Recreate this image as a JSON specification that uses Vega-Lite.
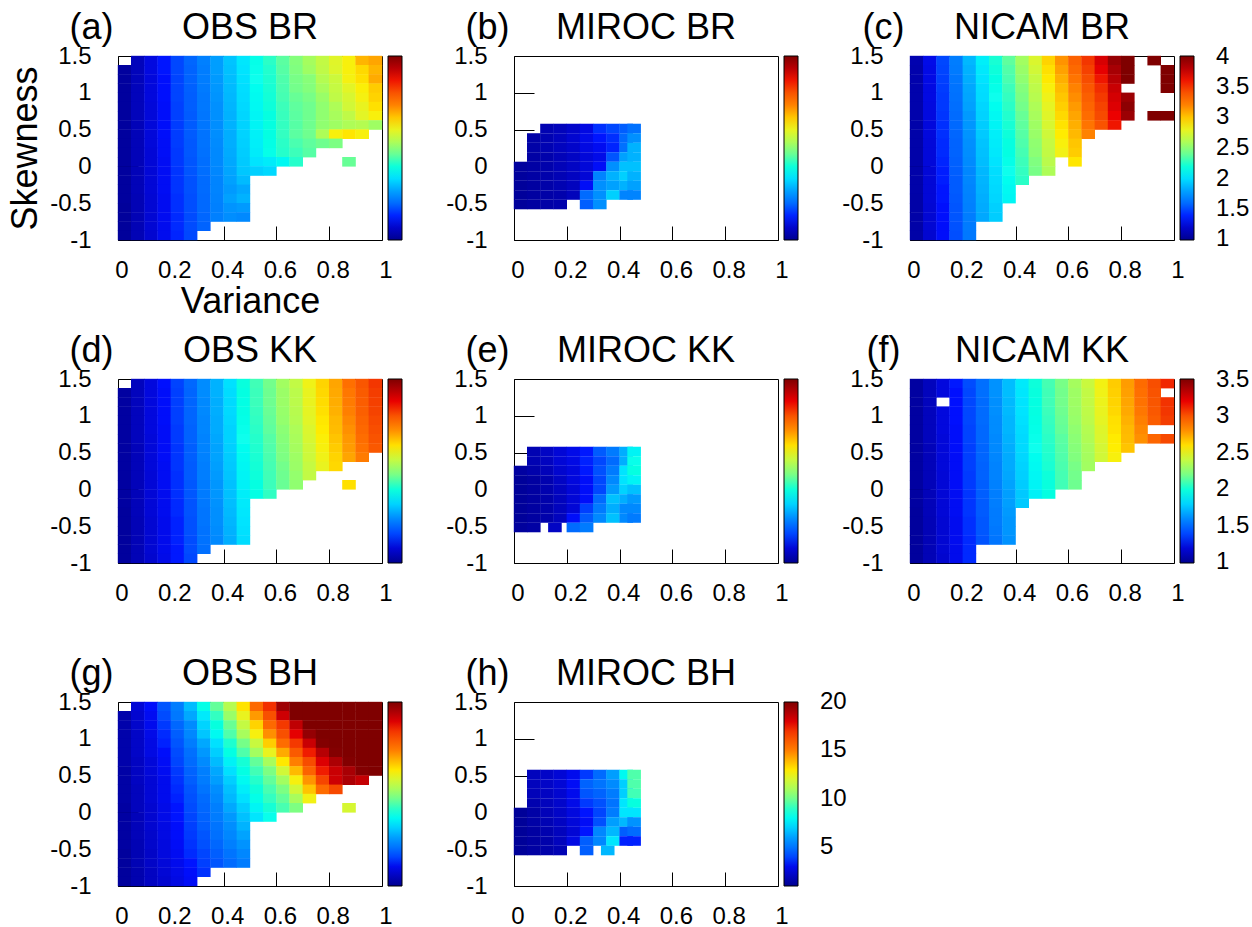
{"$schema":"https://vega.github.io/schema/vega-lite/v6.json","padding":{"left":7,"top":9,"right":0,"bottom":0},"background":"white","datasets":{
"a":[
{"x":0.05,"y":1.375,"v":1.15},{"x":0.1,"y":1.375,"v":1.27},{"x":0.15,"y":1.375,"v":1.38},{"x":0.2,"y":1.375,"v":1.48},{"x":0.25,"y":1.375,"v":1.58},{"x":0.3,"y":1.375,"v":1.68},{"x":0.35,"y":1.375,"v":1.79},{"x":0.4,"y":1.375,"v":1.91},{"x":0.45,"y":1.375,"v":2.03},{"x":0.5,"y":1.375,"v":2.15},{"x":0.55,"y":1.375,"v":2.26},{"x":0.6,"y":1.375,"v":2.37},{"x":0.65,"y":1.375,"v":2.47},{"x":0.7,"y":1.375,"v":2.57},{"x":0.75,"y":1.375,"v":2.67},{"x":0.8,"y":1.375,"v":2.77},{"x":0.85,"y":1.375,"v":2.85},{"x":0.9,"y":1.375,"v":3.05},{"x":0.95,"y":1.375,"v":3.1},
{"x":0,"y":1.25,"v":1.05},{"x":0.05,"y":1.25,"v":1.15},{"x":0.1,"y":1.25,"v":1.27},{"x":0.15,"y":1.25,"v":1.38},{"x":0.2,"y":1.25,"v":1.48},{"x":0.25,"y":1.25,"v":1.57},{"x":0.3,"y":1.25,"v":1.67},{"x":0.35,"y":1.25,"v":1.79},{"x":0.4,"y":1.25,"v":1.9},{"x":0.45,"y":1.25,"v":2.02},{"x":0.5,"y":1.25,"v":2.14},{"x":0.55,"y":1.25,"v":2.24},{"x":0.6,"y":1.25,"v":2.36},{"x":0.65,"y":1.25,"v":2.46},{"x":0.7,"y":1.25,"v":2.55},{"x":0.75,"y":1.25,"v":2.66},{"x":0.8,"y":1.25,"v":2.76},{"x":0.85,"y":1.25,"v":2.85},{"x":0.9,"y":1.25,"v":2.94},{"x":0.95,"y":1.25,"v":3.05},
{"x":0,"y":1.125,"v":1.05},{"x":0.05,"y":1.125,"v":1.15},{"x":0.1,"y":1.125,"v":1.26},{"x":0.15,"y":1.125,"v":1.37},{"x":0.2,"y":1.125,"v":1.47},{"x":0.25,"y":1.125,"v":1.57},{"x":0.3,"y":1.125,"v":1.67},{"x":0.35,"y":1.125,"v":1.78},{"x":0.4,"y":1.125,"v":1.89},{"x":0.45,"y":1.125,"v":2.01},{"x":0.5,"y":1.125,"v":2.13},{"x":0.55,"y":1.125,"v":2.23},{"x":0.6,"y":1.125,"v":2.34},{"x":0.65,"y":1.125,"v":2.44},{"x":0.7,"y":1.125,"v":2.48},{"x":0.75,"y":1.125,"v":2.62},{"x":0.8,"y":1.125,"v":2.7},{"x":0.85,"y":1.125,"v":2.84},{"x":0.9,"y":1.125,"v":2.92},{"x":0.95,"y":1.125,"v":3.08},
{"x":0,"y":1,"v":1.05},{"x":0.05,"y":1,"v":1.15},{"x":0.1,"y":1,"v":1.26},{"x":0.15,"y":1,"v":1.37},{"x":0.2,"y":1,"v":1.47},{"x":0.25,"y":1,"v":1.56},{"x":0.3,"y":1,"v":1.66},{"x":0.35,"y":1,"v":1.77},{"x":0.4,"y":1,"v":1.88},{"x":0.45,"y":1,"v":2},{"x":0.5,"y":1,"v":2.12},{"x":0.55,"y":1,"v":2.22},{"x":0.6,"y":1,"v":2.33},{"x":0.65,"y":1,"v":2.43},{"x":0.7,"y":1,"v":2.47},{"x":0.75,"y":1,"v":2.58},{"x":0.8,"y":1,"v":2.68},{"x":0.85,"y":1,"v":2.78},{"x":0.9,"y":1,"v":2.86},{"x":0.95,"y":1,"v":2.98},
{"x":0,"y":0.875,"v":1.05},{"x":0.05,"y":0.875,"v":1.15},{"x":0.1,"y":0.875,"v":1.26},{"x":0.15,"y":0.875,"v":1.37},{"x":0.2,"y":0.875,"v":1.47},{"x":0.25,"y":0.875,"v":1.55},{"x":0.3,"y":0.875,"v":1.65},{"x":0.35,"y":0.875,"v":1.76},{"x":0.4,"y":0.875,"v":1.87},{"x":0.45,"y":0.875,"v":1.99},{"x":0.5,"y":0.875,"v":2.11},{"x":0.55,"y":0.875,"v":2.21},{"x":0.6,"y":0.875,"v":2.32},{"x":0.65,"y":0.875,"v":2.4},{"x":0.7,"y":0.875,"v":2.44},{"x":0.75,"y":0.875,"v":2.53},{"x":0.8,"y":0.875,"v":2.66},{"x":0.85,"y":0.875,"v":2.74},{"x":0.9,"y":0.875,"v":2.84},{"x":0.95,"y":0.875,"v":2.96},
{"x":0,"y":0.75,"v":1.05},{"x":0.05,"y":0.75,"v":1.15},{"x":0.1,"y":0.75,"v":1.25},{"x":0.15,"y":0.75,"v":1.36},{"x":0.2,"y":0.75,"v":1.46},{"x":0.25,"y":0.75,"v":1.55},{"x":0.3,"y":0.75,"v":1.65},{"x":0.35,"y":0.75,"v":1.75},{"x":0.4,"y":0.75,"v":1.86},{"x":0.45,"y":0.75,"v":1.98},{"x":0.5,"y":0.75,"v":2.1},{"x":0.55,"y":0.75,"v":2.2},{"x":0.6,"y":0.75,"v":2.3},{"x":0.65,"y":0.75,"v":2.38},{"x":0.7,"y":0.75,"v":2.42},{"x":0.75,"y":0.75,"v":2.5},{"x":0.8,"y":0.75,"v":2.6},{"x":0.85,"y":0.75,"v":2.72},{"x":0.9,"y":0.75,"v":2.8},{"x":0.95,"y":0.75,"v":2.92},
{"x":0,"y":0.625,"v":1.05},{"x":0.05,"y":0.625,"v":1.15},{"x":0.1,"y":0.625,"v":1.25},{"x":0.15,"y":0.625,"v":1.36},{"x":0.2,"y":0.625,"v":1.46},{"x":0.25,"y":0.625,"v":1.54},{"x":0.3,"y":0.625,"v":1.64},{"x":0.35,"y":0.625,"v":1.75},{"x":0.4,"y":0.625,"v":1.85},{"x":0.45,"y":0.625,"v":1.97},{"x":0.5,"y":0.625,"v":2.09},{"x":0.55,"y":0.625,"v":2.18},{"x":0.6,"y":0.625,"v":2.29},{"x":0.65,"y":0.625,"v":2.37},{"x":0.7,"y":0.625,"v":2.42},{"x":0.75,"y":0.625,"v":2.5},{"x":0.8,"y":0.625,"v":2.58},{"x":0.85,"y":0.625,"v":2.66},{"x":0.9,"y":0.625,"v":2.78},{"x":0.95,"y":0.625,"v":2.85},
{"x":0,"y":0.5,"v":1.05},{"x":0.05,"y":0.5,"v":1.14},{"x":0.1,"y":0.5,"v":1.25},{"x":0.15,"y":0.5,"v":1.36},{"x":0.2,"y":0.5,"v":1.45},{"x":0.25,"y":0.5,"v":1.54},{"x":0.3,"y":0.5,"v":1.64},{"x":0.35,"y":0.5,"v":1.74},{"x":0.4,"y":0.5,"v":1.85},{"x":0.45,"y":0.5,"v":1.96},{"x":0.5,"y":0.5,"v":2.08},{"x":0.55,"y":0.5,"v":2.18},{"x":0.6,"y":0.5,"v":2.28},{"x":0.65,"y":0.5,"v":2.36},{"x":0.7,"y":0.5,"v":2.42},{"x":0.75,"y":0.5,"v":2.5},{"x":0.8,"y":0.5,"v":2.55},{"x":0.85,"y":0.5,"v":2.6},{"x":0.9,"y":0.5,"v":2.62},{"x":0.95,"y":0.5,"v":2.55},
{"x":0,"y":0.375,"v":1.05},{"x":0.05,"y":0.375,"v":1.14},{"x":0.1,"y":0.375,"v":1.25},{"x":0.15,"y":0.375,"v":1.36},{"x":0.2,"y":0.375,"v":1.45},{"x":0.25,"y":0.375,"v":1.54},{"x":0.3,"y":0.375,"v":1.63},{"x":0.35,"y":0.375,"v":1.74},{"x":0.4,"y":0.375,"v":1.84},{"x":0.45,"y":0.375,"v":1.96},{"x":0.5,"y":0.375,"v":2.07},{"x":0.55,"y":0.375,"v":2.17},{"x":0.6,"y":0.375,"v":2.28},{"x":0.65,"y":0.375,"v":2.37},{"x":0.7,"y":0.375,"v":2.42},{"x":0.75,"y":0.375,"v":2.6},{"x":0.8,"y":0.375,"v":2.85},{"x":0.85,"y":0.375,"v":2.9},{"x":0.9,"y":0.375,"v":2.85},
{"x":0,"y":0.25,"v":1.05},{"x":0.05,"y":0.25,"v":1.14},{"x":0.1,"y":0.25,"v":1.25},{"x":0.15,"y":0.25,"v":1.35},{"x":0.2,"y":0.25,"v":1.45},{"x":0.25,"y":0.25,"v":1.53},{"x":0.3,"y":0.25,"v":1.63},{"x":0.35,"y":0.25,"v":1.73},{"x":0.4,"y":0.25,"v":1.84},{"x":0.45,"y":0.25,"v":1.95},{"x":0.5,"y":0.25,"v":2.06},{"x":0.55,"y":0.25,"v":2.16},{"x":0.6,"y":0.25,"v":2.26},{"x":0.65,"y":0.25,"v":2.33},{"x":0.7,"y":0.25,"v":2.38},{"x":0.75,"y":0.25,"v":2.42},{"x":0.8,"y":0.25,"v":2.45},
{"x":0,"y":0.125,"v":1.05},{"x":0.05,"y":0.125,"v":1.14},{"x":0.1,"y":0.125,"v":1.24},{"x":0.15,"y":0.125,"v":1.35},{"x":0.2,"y":0.125,"v":1.44},{"x":0.25,"y":0.125,"v":1.53},{"x":0.3,"y":0.125,"v":1.62},{"x":0.35,"y":0.125,"v":1.72},{"x":0.4,"y":0.125,"v":1.83},{"x":0.45,"y":0.125,"v":1.94},{"x":0.5,"y":0.125,"v":2.05},{"x":0.55,"y":0.125,"v":2.15},{"x":0.6,"y":0.125,"v":2.25},{"x":0.65,"y":0.125,"v":2.3},{"x":0.7,"y":0.125,"v":2.36},
{"x":0,"y":0,"v":1.05},{"x":0.05,"y":0,"v":1.14},{"x":0.1,"y":0,"v":1.24},{"x":0.15,"y":0,"v":1.34},{"x":0.2,"y":0,"v":1.44},{"x":0.25,"y":0,"v":1.52},{"x":0.3,"y":0,"v":1.61},{"x":0.35,"y":0,"v":1.72},{"x":0.4,"y":0,"v":1.82},{"x":0.45,"y":0,"v":1.93},{"x":0.5,"y":0,"v":2.02},{"x":0.55,"y":0,"v":2.05},{"x":0.6,"y":0,"v":2.1},{"x":0.65,"y":0,"v":2.25},{"x":0.85,"y":0,"v":2.4},
{"x":0,"y":-0.125,"v":1.05},{"x":0.05,"y":-0.125,"v":1.14},{"x":0.1,"y":-0.125,"v":1.24},{"x":0.15,"y":-0.125,"v":1.34},{"x":0.2,"y":-0.125,"v":1.43},{"x":0.25,"y":-0.125,"v":1.52},{"x":0.3,"y":-0.125,"v":1.61},{"x":0.35,"y":-0.125,"v":1.71},{"x":0.4,"y":-0.125,"v":1.81},{"x":0.45,"y":-0.125,"v":1.92},{"x":0.5,"y":-0.125,"v":1.95},{"x":0.55,"y":-0.125,"v":1.98},
{"x":0,"y":-0.25,"v":1.05},{"x":0.05,"y":-0.25,"v":1.14},{"x":0.1,"y":-0.25,"v":1.24},{"x":0.15,"y":-0.25,"v":1.34},{"x":0.2,"y":-0.25,"v":1.43},{"x":0.25,"y":-0.25,"v":1.51},{"x":0.3,"y":-0.25,"v":1.6},{"x":0.35,"y":-0.25,"v":1.7},{"x":0.4,"y":-0.25,"v":1.8},{"x":0.45,"y":-0.25,"v":1.88},
{"x":0,"y":-0.375,"v":1.05},{"x":0.05,"y":-0.375,"v":1.14},{"x":0.1,"y":-0.375,"v":1.24},{"x":0.15,"y":-0.375,"v":1.34},{"x":0.2,"y":-0.375,"v":1.43},{"x":0.25,"y":-0.375,"v":1.51},{"x":0.3,"y":-0.375,"v":1.6},{"x":0.35,"y":-0.375,"v":1.7},{"x":0.4,"y":-0.375,"v":1.78},{"x":0.45,"y":-0.375,"v":1.82},
{"x":0,"y":-0.5,"v":1.05},{"x":0.05,"y":-0.5,"v":1.13},{"x":0.1,"y":-0.5,"v":1.23},{"x":0.15,"y":-0.5,"v":1.33},{"x":0.2,"y":-0.5,"v":1.42},{"x":0.25,"y":-0.5,"v":1.5},{"x":0.3,"y":-0.5,"v":1.59},{"x":0.35,"y":-0.5,"v":1.69},{"x":0.4,"y":-0.5,"v":1.8},{"x":0.45,"y":-0.5,"v":1.85},
{"x":0,"y":-0.625,"v":1.04},{"x":0.05,"y":-0.625,"v":1.13},{"x":0.1,"y":-0.625,"v":1.23},{"x":0.15,"y":-0.625,"v":1.33},{"x":0.2,"y":-0.625,"v":1.42},{"x":0.25,"y":-0.625,"v":1.5},{"x":0.3,"y":-0.625,"v":1.59},{"x":0.35,"y":-0.625,"v":1.68},{"x":0.4,"y":-0.625,"v":1.76},{"x":0.45,"y":-0.625,"v":1.78},
{"x":0,"y":-0.75,"v":1.04},{"x":0.05,"y":-0.75,"v":1.13},{"x":0.1,"y":-0.75,"v":1.23},{"x":0.15,"y":-0.75,"v":1.33},{"x":0.2,"y":-0.75,"v":1.41},{"x":0.25,"y":-0.75,"v":1.49},{"x":0.3,"y":-0.75,"v":1.58},{"x":0.35,"y":-0.75,"v":1.68},{"x":0.4,"y":-0.75,"v":1.74},{"x":0.45,"y":-0.75,"v":1.72},
{"x":0,"y":-0.875,"v":1.04},{"x":0.05,"y":-0.875,"v":1.13},{"x":0.1,"y":-0.875,"v":1.23},{"x":0.15,"y":-0.875,"v":1.32},{"x":0.2,"y":-0.875,"v":1.41},{"x":0.25,"y":-0.875,"v":1.49},{"x":0.3,"y":-0.875,"v":1.57},
{"x":0,"y":-1,"v":1.04},{"x":0.05,"y":-1,"v":1.13},{"x":0.1,"y":-1,"v":1.22},{"x":0.15,"y":-1,"v":1.32},{"x":0.2,"y":-1,"v":1.4},{"x":0.25,"y":-1,"v":1.48}
],
"b":[
{"x":0.1,"y":0.452,"v":1.12},{"x":0.15,"y":0.452,"v":1.15},{"x":0.2,"y":0.452,"v":1.2},{"x":0.25,"y":0.452,"v":1.28},{"x":0.3,"y":0.452,"v":1.42},{"x":0.35,"y":0.452,"v":1.48},{"x":0.4,"y":0.452,"v":1.55},{"x":0.43,"y":0.452,"v":1.62},
{"x":0.05,"y":0.323,"v":1.08},{"x":0.1,"y":0.323,"v":1.12},{"x":0.15,"y":0.323,"v":1.16},{"x":0.2,"y":0.323,"v":1.22},{"x":0.25,"y":0.323,"v":1.3},{"x":0.3,"y":0.323,"v":1.38},{"x":0.35,"y":0.323,"v":1.42},{"x":0.4,"y":0.323,"v":1.6},{"x":0.43,"y":0.323,"v":1.75},
{"x":0.05,"y":0.194,"v":1.08},{"x":0.1,"y":0.194,"v":1.12},{"x":0.15,"y":0.194,"v":1.16},{"x":0.2,"y":0.194,"v":1.2},{"x":0.25,"y":0.194,"v":1.28},{"x":0.3,"y":0.194,"v":1.33},{"x":0.35,"y":0.194,"v":1.4},{"x":0.4,"y":0.194,"v":1.62},{"x":0.43,"y":0.194,"v":1.85},
{"x":0.05,"y":0.065,"v":1.07},{"x":0.1,"y":0.065,"v":1.1},{"x":0.15,"y":0.065,"v":1.14},{"x":0.2,"y":0.065,"v":1.18},{"x":0.25,"y":0.065,"v":1.25},{"x":0.3,"y":0.065,"v":1.3},{"x":0.35,"y":0.065,"v":1.52},{"x":0.4,"y":0.065,"v":1.8},{"x":0.43,"y":0.065,"v":1.85},
{"x":0,"y":-0.064,"v":1.05},{"x":0.05,"y":-0.064,"v":1.07},{"x":0.1,"y":-0.064,"v":1.1},{"x":0.15,"y":-0.064,"v":1.14},{"x":0.2,"y":-0.064,"v":1.18},{"x":0.25,"y":-0.064,"v":1.25},{"x":0.3,"y":-0.064,"v":1.35},{"x":0.35,"y":-0.064,"v":1.75},{"x":0.4,"y":-0.064,"v":1.9},{"x":0.43,"y":-0.064,"v":1.9},
{"x":0,"y":-0.193,"v":1.05},{"x":0.05,"y":-0.193,"v":1.07},{"x":0.1,"y":-0.193,"v":1.1},{"x":0.15,"y":-0.193,"v":1.13},{"x":0.2,"y":-0.193,"v":1.17},{"x":0.25,"y":-0.193,"v":1.24},{"x":0.3,"y":-0.193,"v":1.7},{"x":0.35,"y":-0.193,"v":1.85},{"x":0.4,"y":-0.193,"v":1.95},{"x":0.43,"y":-0.193,"v":1.85},
{"x":0,"y":-0.322,"v":1.04},{"x":0.05,"y":-0.322,"v":1.06},{"x":0.1,"y":-0.322,"v":1.09},{"x":0.15,"y":-0.322,"v":1.12},{"x":0.2,"y":-0.322,"v":1.16},{"x":0.25,"y":-0.322,"v":1.35},{"x":0.3,"y":-0.322,"v":1.75},{"x":0.35,"y":-0.322,"v":1.8},{"x":0.4,"y":-0.322,"v":1.85},{"x":0.43,"y":-0.322,"v":1.8},
{"x":0,"y":-0.451,"v":1.04},{"x":0.05,"y":-0.451,"v":1.06},{"x":0.1,"y":-0.451,"v":1.08},{"x":0.15,"y":-0.451,"v":1.1},{"x":0.2,"y":-0.451,"v":1.15},{"x":0.25,"y":-0.451,"v":1.6},{"x":0.3,"y":-0.451,"v":1.75},{"x":0.35,"y":-0.451,"v":1.95},{"x":0.4,"y":-0.451,"v":1.7},{"x":0.43,"y":-0.451,"v":1.7},
{"x":0,"y":-0.58,"v":1.04},{"x":0.05,"y":-0.58,"v":1.06},{"x":0.1,"y":-0.58,"v":1.08},{"x":0.15,"y":-0.58,"v":1.1},{"x":0.25,"y":-0.58,"v":1.55},{"x":0.3,"y":-0.58,"v":1.75}
],
"c":[
{"x":0,"y":1.375,"v":1.11},{"x":0.05,"y":1.375,"v":1.3},{"x":0.1,"y":1.375,"v":1.48},{"x":0.15,"y":1.375,"v":1.67},{"x":0.2,"y":1.375,"v":1.87},{"x":0.25,"y":1.375,"v":2.06},{"x":0.3,"y":1.375,"v":2.22},{"x":0.35,"y":1.375,"v":2.38},{"x":0.4,"y":1.375,"v":2.56},{"x":0.45,"y":1.375,"v":2.75},{"x":0.5,"y":1.375,"v":2.96},{"x":0.55,"y":1.375,"v":3.15},{"x":0.6,"y":1.375,"v":3.33},{"x":0.65,"y":1.375,"v":3.52},{"x":0.7,"y":1.375,"v":3.7},{"x":0.75,"y":1.375,"v":3.92},{"x":0.8,"y":1.375,"v":4},{"x":0.9,"y":1.375,"v":4},
{"x":0,"y":1.25,"v":1.1},{"x":0.05,"y":1.25,"v":1.29},{"x":0.1,"y":1.25,"v":1.47},{"x":0.15,"y":1.25,"v":1.66},{"x":0.2,"y":1.25,"v":1.85},{"x":0.25,"y":1.25,"v":2.04},{"x":0.3,"y":1.25,"v":2.2},{"x":0.35,"y":1.25,"v":2.35},{"x":0.4,"y":1.25,"v":2.53},{"x":0.45,"y":1.25,"v":2.72},{"x":0.5,"y":1.25,"v":2.92},{"x":0.55,"y":1.25,"v":3.11},{"x":0.6,"y":1.25,"v":3.29},{"x":0.65,"y":1.25,"v":3.48},{"x":0.7,"y":1.25,"v":3.65},{"x":0.75,"y":1.25,"v":3.86},{"x":0.8,"y":1.25,"v":4},{"x":0.95,"y":1.25,"v":4},
{"x":0,"y":1.125,"v":1.1},{"x":0.05,"y":1.125,"v":1.29},{"x":0.1,"y":1.125,"v":1.46},{"x":0.15,"y":1.125,"v":1.64},{"x":0.2,"y":1.125,"v":1.84},{"x":0.25,"y":1.125,"v":2.02},{"x":0.3,"y":1.125,"v":2.17},{"x":0.35,"y":1.125,"v":2.33},{"x":0.4,"y":1.125,"v":2.5},{"x":0.45,"y":1.125,"v":2.68},{"x":0.5,"y":1.125,"v":2.89},{"x":0.55,"y":1.125,"v":3.07},{"x":0.6,"y":1.125,"v":3.24},{"x":0.65,"y":1.125,"v":3.43},{"x":0.7,"y":1.125,"v":3.6},{"x":0.75,"y":1.125,"v":3.81},{"x":0.8,"y":1.125,"v":4},{"x":0.95,"y":1.125,"v":4},
{"x":0,"y":1,"v":1.1},{"x":0.05,"y":1,"v":1.28},{"x":0.1,"y":1,"v":1.45},{"x":0.15,"y":1,"v":1.63},{"x":0.2,"y":1,"v":1.82},{"x":0.25,"y":1,"v":2},{"x":0.3,"y":1,"v":2.15},{"x":0.35,"y":1,"v":2.3},{"x":0.4,"y":1,"v":2.47},{"x":0.45,"y":1,"v":2.65},{"x":0.5,"y":1,"v":2.85},{"x":0.55,"y":1,"v":3.03},{"x":0.6,"y":1,"v":3.2},{"x":0.65,"y":1,"v":3.38},{"x":0.7,"y":1,"v":3.55},{"x":0.75,"y":1,"v":3.75},{"x":0.95,"y":1,"v":4},
{"x":0,"y":0.875,"v":1.1},{"x":0.05,"y":0.875,"v":1.28},{"x":0.1,"y":0.875,"v":1.44},{"x":0.15,"y":0.875,"v":1.62},{"x":0.2,"y":0.875,"v":1.81},{"x":0.25,"y":0.875,"v":1.99},{"x":0.3,"y":0.875,"v":2.13},{"x":0.35,"y":0.875,"v":2.28},{"x":0.4,"y":0.875,"v":2.45},{"x":0.45,"y":0.875,"v":2.63},{"x":0.5,"y":0.875,"v":2.82},{"x":0.55,"y":0.875,"v":3},{"x":0.6,"y":0.875,"v":3.17},{"x":0.65,"y":0.875,"v":3.34},{"x":0.7,"y":0.875,"v":3.51},{"x":0.75,"y":0.875,"v":3.71},{"x":0.8,"y":0.875,"v":3.9},
{"x":0,"y":0.75,"v":1.1},{"x":0.05,"y":0.75,"v":1.27},{"x":0.1,"y":0.75,"v":1.44},{"x":0.15,"y":0.75,"v":1.61},{"x":0.2,"y":0.75,"v":1.8},{"x":0.25,"y":0.75,"v":1.97},{"x":0.3,"y":0.75,"v":2.12},{"x":0.35,"y":0.75,"v":2.26},{"x":0.4,"y":0.75,"v":2.43},{"x":0.45,"y":0.75,"v":2.6},{"x":0.5,"y":0.75,"v":2.79},{"x":0.55,"y":0.75,"v":2.97},{"x":0.6,"y":0.75,"v":3.13},{"x":0.65,"y":0.75,"v":3.31},{"x":0.7,"y":0.75,"v":3.47},{"x":0.75,"y":0.75,"v":3.68},{"x":0.8,"y":0.75,"v":3.95},
{"x":0,"y":0.625,"v":1.1},{"x":0.05,"y":0.625,"v":1.27},{"x":0.1,"y":0.625,"v":1.43},{"x":0.15,"y":0.625,"v":1.6},{"x":0.2,"y":0.625,"v":1.78},{"x":0.25,"y":0.625,"v":1.96},{"x":0.3,"y":0.625,"v":2.1},{"x":0.35,"y":0.625,"v":2.24},{"x":0.4,"y":0.625,"v":2.4},{"x":0.45,"y":0.625,"v":2.58},{"x":0.5,"y":0.625,"v":2.77},{"x":0.55,"y":0.625,"v":2.94},{"x":0.6,"y":0.625,"v":3.1},{"x":0.65,"y":0.625,"v":3.27},{"x":0.7,"y":0.625,"v":3.44},{"x":0.75,"y":0.625,"v":3.63},{"x":0.8,"y":0.625,"v":3.9},{"x":0.9,"y":0.625,"v":4},{"x":0.95,"y":0.625,"v":4},
{"x":0,"y":0.5,"v":1.09},{"x":0.05,"y":0.5,"v":1.26},{"x":0.1,"y":0.5,"v":1.42},{"x":0.15,"y":0.5,"v":1.59},{"x":0.2,"y":0.5,"v":1.77},{"x":0.25,"y":0.5,"v":1.94},{"x":0.3,"y":0.5,"v":2.08},{"x":0.35,"y":0.5,"v":2.22},{"x":0.4,"y":0.5,"v":2.38},{"x":0.45,"y":0.5,"v":2.55},{"x":0.5,"y":0.5,"v":2.74},{"x":0.55,"y":0.5,"v":2.91},{"x":0.6,"y":0.5,"v":3.07},{"x":0.65,"y":0.5,"v":3.24},{"x":0.7,"y":0.5,"v":3.4},{"x":0.75,"y":0.5,"v":3.6},
{"x":0,"y":0.375,"v":1.09},{"x":0.05,"y":0.375,"v":1.26},{"x":0.1,"y":0.375,"v":1.42},{"x":0.15,"y":0.375,"v":1.58},{"x":0.2,"y":0.375,"v":1.76},{"x":0.25,"y":0.375,"v":1.93},{"x":0.3,"y":0.375,"v":2.06},{"x":0.35,"y":0.375,"v":2.2},{"x":0.4,"y":0.375,"v":2.36},{"x":0.45,"y":0.375,"v":2.53},{"x":0.5,"y":0.375,"v":2.71},{"x":0.55,"y":0.375,"v":2.88},{"x":0.6,"y":0.375,"v":3.04},{"x":0.65,"y":0.375,"v":3.2},
{"x":0,"y":0.25,"v":1.09},{"x":0.05,"y":0.25,"v":1.25},{"x":0.1,"y":0.25,"v":1.41},{"x":0.15,"y":0.25,"v":1.57},{"x":0.2,"y":0.25,"v":1.75},{"x":0.25,"y":0.25,"v":1.91},{"x":0.3,"y":0.25,"v":2.05},{"x":0.35,"y":0.25,"v":2.18},{"x":0.4,"y":0.25,"v":2.34},{"x":0.45,"y":0.25,"v":2.5},{"x":0.5,"y":0.25,"v":2.68},{"x":0.55,"y":0.25,"v":2.85},{"x":0.6,"y":0.25,"v":3},
{"x":0,"y":0.125,"v":1.09},{"x":0.05,"y":0.125,"v":1.25},{"x":0.1,"y":0.125,"v":1.41},{"x":0.15,"y":0.125,"v":1.57},{"x":0.2,"y":0.125,"v":1.74},{"x":0.25,"y":0.125,"v":1.9},{"x":0.3,"y":0.125,"v":2.04},{"x":0.35,"y":0.125,"v":2.17},{"x":0.4,"y":0.125,"v":2.32},{"x":0.45,"y":0.125,"v":2.49},{"x":0.5,"y":0.125,"v":2.67},{"x":0.55,"y":0.125,"v":2.83},{"x":0.6,"y":0.125,"v":2.98},
{"x":0,"y":0,"v":1.09},{"x":0.05,"y":0,"v":1.25},{"x":0.1,"y":0,"v":1.4},{"x":0.15,"y":0,"v":1.56},{"x":0.2,"y":0,"v":1.73},{"x":0.25,"y":0,"v":1.89},{"x":0.3,"y":0,"v":2.02},{"x":0.35,"y":0,"v":2.15},{"x":0.4,"y":0,"v":2.3},{"x":0.45,"y":0,"v":2.46},{"x":0.5,"y":0,"v":2.64},{"x":0.6,"y":0,"v":2.9},
{"x":0,"y":-0.125,"v":1.09},{"x":0.05,"y":-0.125,"v":1.24},{"x":0.1,"y":-0.125,"v":1.39},{"x":0.15,"y":-0.125,"v":1.55},{"x":0.2,"y":-0.125,"v":1.71},{"x":0.25,"y":-0.125,"v":1.87},{"x":0.3,"y":-0.125,"v":2},{"x":0.35,"y":-0.125,"v":2.13},{"x":0.4,"y":-0.125,"v":2.28},{"x":0.45,"y":-0.125,"v":2.44},{"x":0.5,"y":-0.125,"v":2.6},
{"x":0,"y":-0.25,"v":1.09},{"x":0.05,"y":-0.25,"v":1.24},{"x":0.1,"y":-0.25,"v":1.39},{"x":0.15,"y":-0.25,"v":1.54},{"x":0.2,"y":-0.25,"v":1.71},{"x":0.25,"y":-0.25,"v":1.86},{"x":0.3,"y":-0.25,"v":1.99},{"x":0.35,"y":-0.25,"v":2.12},{"x":0.4,"y":-0.25,"v":2.26},
{"x":0,"y":-0.375,"v":1.09},{"x":0.05,"y":-0.375,"v":1.24},{"x":0.1,"y":-0.375,"v":1.38},{"x":0.15,"y":-0.375,"v":1.54},{"x":0.2,"y":-0.375,"v":1.7},{"x":0.25,"y":-0.375,"v":1.85},{"x":0.3,"y":-0.375,"v":1.98},{"x":0.35,"y":-0.375,"v":2.1},
{"x":0,"y":-0.5,"v":1.08},{"x":0.05,"y":-0.5,"v":1.24},{"x":0.1,"y":-0.5,"v":1.38},{"x":0.15,"y":-0.5,"v":1.53},{"x":0.2,"y":-0.5,"v":1.69},{"x":0.25,"y":-0.5,"v":1.84},{"x":0.3,"y":-0.5,"v":1.97},{"x":0.35,"y":-0.5,"v":2.09},
{"x":0,"y":-0.625,"v":1.08},{"x":0.05,"y":-0.625,"v":1.23},{"x":0.1,"y":-0.625,"v":1.37},{"x":0.15,"y":-0.625,"v":1.52},{"x":0.2,"y":-0.625,"v":1.68},{"x":0.25,"y":-0.625,"v":1.83},{"x":0.3,"y":-0.625,"v":1.95},
{"x":0,"y":-0.75,"v":1.08},{"x":0.05,"y":-0.75,"v":1.23},{"x":0.1,"y":-0.75,"v":1.37},{"x":0.15,"y":-0.75,"v":1.52},{"x":0.2,"y":-0.75,"v":1.67},{"x":0.25,"y":-0.75,"v":1.82},{"x":0.3,"y":-0.75,"v":1.94},
{"x":0,"y":-0.875,"v":1.08},{"x":0.05,"y":-0.875,"v":1.23},{"x":0.1,"y":-0.875,"v":1.36},{"x":0.15,"y":-0.875,"v":1.51},{"x":0.2,"y":-0.875,"v":1.66},
{"x":0,"y":-1,"v":1.08},{"x":0.05,"y":-1,"v":1.22},{"x":0.1,"y":-1,"v":1.36},{"x":0.15,"y":-1,"v":1.5},{"x":0.2,"y":-1,"v":1.65}
],
"d":[
{"x":0.05,"y":1.375,"v":1.13},{"x":0.1,"y":1.375,"v":1.22},{"x":0.15,"y":1.375,"v":1.31},{"x":0.2,"y":1.375,"v":1.39},{"x":0.25,"y":1.375,"v":1.49},{"x":0.3,"y":1.375,"v":1.61},{"x":0.35,"y":1.375,"v":1.71},{"x":0.4,"y":1.375,"v":1.84},{"x":0.45,"y":1.375,"v":1.99},{"x":0.5,"y":1.375,"v":2.09},{"x":0.55,"y":1.375,"v":2.19},{"x":0.6,"y":1.375,"v":2.3},{"x":0.65,"y":1.375,"v":2.39},{"x":0.7,"y":1.375,"v":2.52},{"x":0.75,"y":1.375,"v":2.63},{"x":0.8,"y":1.375,"v":2.75},{"x":0.85,"y":1.375,"v":2.88},{"x":0.9,"y":1.375,"v":2.99},{"x":0.95,"y":1.375,"v":3.1},
{"x":0,"y":1.25,"v":1.05},{"x":0.05,"y":1.25,"v":1.13},{"x":0.1,"y":1.25,"v":1.22},{"x":0.15,"y":1.25,"v":1.3},{"x":0.2,"y":1.25,"v":1.38},{"x":0.25,"y":1.25,"v":1.48},{"x":0.3,"y":1.25,"v":1.61},{"x":0.35,"y":1.25,"v":1.71},{"x":0.4,"y":1.25,"v":1.83},{"x":0.45,"y":1.25,"v":1.98},{"x":0.5,"y":1.25,"v":2.08},{"x":0.55,"y":1.25,"v":2.18},{"x":0.6,"y":1.25,"v":2.28},{"x":0.65,"y":1.25,"v":2.37},{"x":0.7,"y":1.25,"v":2.5},{"x":0.75,"y":1.25,"v":2.62},{"x":0.8,"y":1.25,"v":2.74},{"x":0.85,"y":1.25,"v":2.86},{"x":0.9,"y":1.25,"v":2.97},{"x":0.95,"y":1.25,"v":3.08},
{"x":0,"y":1.125,"v":1.05},{"x":0.05,"y":1.125,"v":1.13},{"x":0.1,"y":1.125,"v":1.22},{"x":0.15,"y":1.125,"v":1.3},{"x":0.2,"y":1.125,"v":1.38},{"x":0.25,"y":1.125,"v":1.48},{"x":0.3,"y":1.125,"v":1.6},{"x":0.35,"y":1.125,"v":1.7},{"x":0.4,"y":1.125,"v":1.82},{"x":0.45,"y":1.125,"v":1.97},{"x":0.5,"y":1.125,"v":2.08},{"x":0.55,"y":1.125,"v":2.18},{"x":0.6,"y":1.125,"v":2.28},{"x":0.65,"y":1.125,"v":2.37},{"x":0.7,"y":1.125,"v":2.5},{"x":0.75,"y":1.125,"v":2.61},{"x":0.8,"y":1.125,"v":2.73},{"x":0.85,"y":1.125,"v":2.85},{"x":0.9,"y":1.125,"v":2.96},{"x":0.95,"y":1.125,"v":3.07},
{"x":0,"y":1,"v":1.05},{"x":0.05,"y":1,"v":1.13},{"x":0.1,"y":1,"v":1.22},{"x":0.15,"y":1,"v":1.3},{"x":0.2,"y":1,"v":1.38},{"x":0.25,"y":1,"v":1.48},{"x":0.3,"y":1,"v":1.6},{"x":0.35,"y":1,"v":1.7},{"x":0.4,"y":1,"v":1.82},{"x":0.45,"y":1,"v":1.97},{"x":0.5,"y":1,"v":2.07},{"x":0.55,"y":1,"v":2.17},{"x":0.6,"y":1,"v":2.27},{"x":0.65,"y":1,"v":2.36},{"x":0.7,"y":1,"v":2.49},{"x":0.75,"y":1,"v":2.6},{"x":0.8,"y":1,"v":2.72},{"x":0.85,"y":1,"v":2.84},{"x":0.9,"y":1,"v":2.95},{"x":0.95,"y":1,"v":3.06},
{"x":0,"y":0.875,"v":1.05},{"x":0.05,"y":0.875,"v":1.13},{"x":0.1,"y":0.875,"v":1.22},{"x":0.15,"y":0.875,"v":1.3},{"x":0.2,"y":0.875,"v":1.38},{"x":0.25,"y":0.875,"v":1.48},{"x":0.3,"y":0.875,"v":1.59},{"x":0.35,"y":0.875,"v":1.69},{"x":0.4,"y":0.875,"v":1.81},{"x":0.45,"y":0.875,"v":1.96},{"x":0.5,"y":0.875,"v":2.06},{"x":0.55,"y":0.875,"v":2.16},{"x":0.6,"y":0.875,"v":2.26},{"x":0.65,"y":0.875,"v":2.35},{"x":0.7,"y":0.875,"v":2.48},{"x":0.75,"y":0.875,"v":2.58},{"x":0.8,"y":0.875,"v":2.7},{"x":0.85,"y":0.875,"v":2.82},{"x":0.9,"y":0.875,"v":2.93},{"x":0.95,"y":0.875,"v":3.04},
{"x":0,"y":0.75,"v":1.05},{"x":0.05,"y":0.75,"v":1.13},{"x":0.1,"y":0.75,"v":1.22},{"x":0.15,"y":0.75,"v":1.29},{"x":0.2,"y":0.75,"v":1.37},{"x":0.25,"y":0.75,"v":1.47},{"x":0.3,"y":0.75,"v":1.59},{"x":0.35,"y":0.75,"v":1.69},{"x":0.4,"y":0.75,"v":1.8},{"x":0.45,"y":0.75,"v":1.95},{"x":0.5,"y":0.75,"v":2.05},{"x":0.55,"y":0.75,"v":2.15},{"x":0.6,"y":0.75,"v":2.24},{"x":0.65,"y":0.75,"v":2.33},{"x":0.7,"y":0.75,"v":2.46},{"x":0.75,"y":0.75,"v":2.57},{"x":0.8,"y":0.75,"v":2.69},{"x":0.85,"y":0.75,"v":2.8},{"x":0.9,"y":0.75,"v":2.91},{"x":0.95,"y":0.75,"v":3.02},
{"x":0,"y":0.625,"v":1.05},{"x":0.05,"y":0.625,"v":1.13},{"x":0.1,"y":0.625,"v":1.21},{"x":0.15,"y":0.625,"v":1.29},{"x":0.2,"y":0.625,"v":1.37},{"x":0.25,"y":0.625,"v":1.47},{"x":0.3,"y":0.625,"v":1.58},{"x":0.35,"y":0.625,"v":1.68},{"x":0.4,"y":0.625,"v":1.8},{"x":0.45,"y":0.625,"v":1.94},{"x":0.5,"y":0.625,"v":2.04},{"x":0.55,"y":0.625,"v":2.13},{"x":0.6,"y":0.625,"v":2.23},{"x":0.65,"y":0.625,"v":2.32},{"x":0.7,"y":0.625,"v":2.45},{"x":0.75,"y":0.625,"v":2.55},{"x":0.8,"y":0.625,"v":2.67},{"x":0.85,"y":0.625,"v":2.78},{"x":0.9,"y":0.625,"v":2.89},{"x":0.95,"y":0.625,"v":3},
{"x":0,"y":0.5,"v":1.05},{"x":0.05,"y":0.5,"v":1.12},{"x":0.1,"y":0.5,"v":1.21},{"x":0.15,"y":0.5,"v":1.29},{"x":0.2,"y":0.5,"v":1.36},{"x":0.25,"y":0.5,"v":1.46},{"x":0.3,"y":0.5,"v":1.58},{"x":0.35,"y":0.5,"v":1.67},{"x":0.4,"y":0.5,"v":1.79},{"x":0.45,"y":0.5,"v":1.93},{"x":0.5,"y":0.5,"v":2.03},{"x":0.55,"y":0.5,"v":2.12},{"x":0.6,"y":0.5,"v":2.22},{"x":0.65,"y":0.5,"v":2.31},{"x":0.7,"y":0.5,"v":2.43},{"x":0.75,"y":0.5,"v":2.54},{"x":0.8,"y":0.5,"v":2.65},{"x":0.85,"y":0.5,"v":2.77},{"x":0.9,"y":0.5,"v":2.87},{"x":0.95,"y":0.5,"v":2.98},
{"x":0,"y":0.375,"v":1.05},{"x":0.05,"y":0.375,"v":1.12},{"x":0.1,"y":0.375,"v":1.21},{"x":0.15,"y":0.375,"v":1.29},{"x":0.2,"y":0.375,"v":1.36},{"x":0.25,"y":0.375,"v":1.46},{"x":0.3,"y":0.375,"v":1.57},{"x":0.35,"y":0.375,"v":1.67},{"x":0.4,"y":0.375,"v":1.78},{"x":0.45,"y":0.375,"v":1.92},{"x":0.5,"y":0.375,"v":2.02},{"x":0.55,"y":0.375,"v":2.11},{"x":0.6,"y":0.375,"v":2.21},{"x":0.65,"y":0.375,"v":2.29},{"x":0.7,"y":0.375,"v":2.42},{"x":0.75,"y":0.375,"v":2.52},{"x":0.8,"y":0.375,"v":2.63},{"x":0.85,"y":0.375,"v":2.75},{"x":0.9,"y":0.375,"v":2.85},
{"x":0,"y":0.25,"v":1.05},{"x":0.05,"y":0.25,"v":1.12},{"x":0.1,"y":0.25,"v":1.21},{"x":0.15,"y":0.25,"v":1.28},{"x":0.2,"y":0.25,"v":1.36},{"x":0.25,"y":0.25,"v":1.45},{"x":0.3,"y":0.25,"v":1.56},{"x":0.35,"y":0.25,"v":1.66},{"x":0.4,"y":0.25,"v":1.77},{"x":0.45,"y":0.25,"v":1.91},{"x":0.5,"y":0.25,"v":2.01},{"x":0.55,"y":0.25,"v":2.1},{"x":0.6,"y":0.25,"v":2.19},{"x":0.65,"y":0.25,"v":2.28},{"x":0.7,"y":0.25,"v":2.4},{"x":0.75,"y":0.25,"v":2.5},{"x":0.8,"y":0.25,"v":2.62},
{"x":0,"y":0.125,"v":1.05},{"x":0.05,"y":0.125,"v":1.12},{"x":0.1,"y":0.125,"v":1.2},{"x":0.15,"y":0.125,"v":1.28},{"x":0.2,"y":0.125,"v":1.35},{"x":0.25,"y":0.125,"v":1.45},{"x":0.3,"y":0.125,"v":1.56},{"x":0.35,"y":0.125,"v":1.65},{"x":0.4,"y":0.125,"v":1.76},{"x":0.45,"y":0.125,"v":1.9},{"x":0.5,"y":0.125,"v":2},{"x":0.55,"y":0.125,"v":2.09},{"x":0.6,"y":0.125,"v":2.18},{"x":0.65,"y":0.125,"v":2.26},{"x":0.7,"y":0.125,"v":2.39},
{"x":0,"y":0,"v":1.05},{"x":0.05,"y":0,"v":1.12},{"x":0.1,"y":0,"v":1.2},{"x":0.15,"y":0,"v":1.28},{"x":0.2,"y":0,"v":1.35},{"x":0.25,"y":0,"v":1.44},{"x":0.3,"y":0,"v":1.55},{"x":0.35,"y":0,"v":1.64},{"x":0.4,"y":0,"v":1.75},{"x":0.45,"y":0,"v":1.89},{"x":0.5,"y":0,"v":1.98},{"x":0.55,"y":0,"v":2.08},{"x":0.6,"y":0,"v":2.17},{"x":0.65,"y":0,"v":2.25},{"x":0.85,"y":0,"v":2.6},
{"x":0,"y":-0.125,"v":1.05},{"x":0.05,"y":-0.125,"v":1.12},{"x":0.1,"y":-0.125,"v":1.2},{"x":0.15,"y":-0.125,"v":1.27},{"x":0.2,"y":-0.125,"v":1.35},{"x":0.25,"y":-0.125,"v":1.44},{"x":0.3,"y":-0.125,"v":1.55},{"x":0.35,"y":-0.125,"v":1.64},{"x":0.4,"y":-0.125,"v":1.75},{"x":0.45,"y":-0.125,"v":1.88},{"x":0.5,"y":-0.125,"v":1.97},{"x":0.55,"y":-0.125,"v":2.06},
{"x":0,"y":-0.25,"v":1.05},{"x":0.05,"y":-0.25,"v":1.12},{"x":0.1,"y":-0.25,"v":1.2},{"x":0.15,"y":-0.25,"v":1.27},{"x":0.2,"y":-0.25,"v":1.34},{"x":0.25,"y":-0.25,"v":1.43},{"x":0.3,"y":-0.25,"v":1.54},{"x":0.35,"y":-0.25,"v":1.63},{"x":0.4,"y":-0.25,"v":1.74},{"x":0.45,"y":-0.25,"v":1.87},
{"x":0,"y":-0.375,"v":1.04},{"x":0.05,"y":-0.375,"v":1.12},{"x":0.1,"y":-0.375,"v":1.2},{"x":0.15,"y":-0.375,"v":1.27},{"x":0.2,"y":-0.375,"v":1.34},{"x":0.25,"y":-0.375,"v":1.43},{"x":0.3,"y":-0.375,"v":1.53},{"x":0.35,"y":-0.375,"v":1.62},{"x":0.4,"y":-0.375,"v":1.73},{"x":0.45,"y":-0.375,"v":1.86},
{"x":0,"y":-0.5,"v":1.04},{"x":0.05,"y":-0.5,"v":1.11},{"x":0.1,"y":-0.5,"v":1.19},{"x":0.15,"y":-0.5,"v":1.26},{"x":0.2,"y":-0.5,"v":1.33},{"x":0.25,"y":-0.5,"v":1.42},{"x":0.3,"y":-0.5,"v":1.53},{"x":0.35,"y":-0.5,"v":1.62},{"x":0.4,"y":-0.5,"v":1.72},{"x":0.45,"y":-0.5,"v":1.85},
{"x":0,"y":-0.625,"v":1.04},{"x":0.05,"y":-0.625,"v":1.11},{"x":0.1,"y":-0.625,"v":1.19},{"x":0.15,"y":-0.625,"v":1.26},{"x":0.2,"y":-0.625,"v":1.33},{"x":0.25,"y":-0.625,"v":1.42},{"x":0.3,"y":-0.625,"v":1.52},{"x":0.35,"y":-0.625,"v":1.61},{"x":0.4,"y":-0.625,"v":1.71},{"x":0.45,"y":-0.625,"v":1.84},
{"x":0,"y":-0.75,"v":1.04},{"x":0.05,"y":-0.75,"v":1.11},{"x":0.1,"y":-0.75,"v":1.19},{"x":0.15,"y":-0.75,"v":1.26},{"x":0.2,"y":-0.75,"v":1.33},{"x":0.25,"y":-0.75,"v":1.41},{"x":0.3,"y":-0.75,"v":1.52},{"x":0.35,"y":-0.75,"v":1.6},{"x":0.4,"y":-0.75,"v":1.7},{"x":0.45,"y":-0.75,"v":1.83},
{"x":0,"y":-0.875,"v":1.04},{"x":0.05,"y":-0.875,"v":1.11},{"x":0.1,"y":-0.875,"v":1.19},{"x":0.15,"y":-0.875,"v":1.26},{"x":0.2,"y":-0.875,"v":1.32},{"x":0.25,"y":-0.875,"v":1.41},{"x":0.3,"y":-0.875,"v":1.51},
{"x":0,"y":-1,"v":1.04},{"x":0.05,"y":-1,"v":1.11},{"x":0.1,"y":-1,"v":1.18},{"x":0.15,"y":-1,"v":1.25},{"x":0.2,"y":-1,"v":1.32},{"x":0.25,"y":-1,"v":1.4}
],
"e":[
{"x":0.05,"y":0.452,"v":1.1},{"x":0.1,"y":0.452,"v":1.15},{"x":0.15,"y":0.452,"v":1.2},{"x":0.2,"y":0.452,"v":1.25},{"x":0.25,"y":0.452,"v":1.32},{"x":0.3,"y":0.452,"v":1.45},{"x":0.35,"y":0.452,"v":1.55},{"x":0.4,"y":0.452,"v":1.7},{"x":0.43,"y":0.452,"v":1.9},
{"x":0.05,"y":0.323,"v":1.1},{"x":0.1,"y":0.323,"v":1.14},{"x":0.15,"y":0.323,"v":1.2},{"x":0.2,"y":0.323,"v":1.24},{"x":0.25,"y":0.323,"v":1.33},{"x":0.3,"y":0.323,"v":1.4},{"x":0.35,"y":0.323,"v":1.5},{"x":0.4,"y":0.323,"v":1.7},{"x":0.43,"y":0.323,"v":1.95},
{"x":0,"y":0.194,"v":1.05},{"x":0.05,"y":0.194,"v":1.08},{"x":0.1,"y":0.194,"v":1.12},{"x":0.15,"y":0.194,"v":1.18},{"x":0.2,"y":0.194,"v":1.22},{"x":0.25,"y":0.194,"v":1.32},{"x":0.3,"y":0.194,"v":1.42},{"x":0.35,"y":0.194,"v":1.55},{"x":0.4,"y":0.194,"v":1.85},{"x":0.43,"y":0.194,"v":1.98},
{"x":0,"y":0.065,"v":1.03},{"x":0.05,"y":0.065,"v":1.05},{"x":0.1,"y":0.065,"v":1.09},{"x":0.15,"y":0.065,"v":1.15},{"x":0.2,"y":0.065,"v":1.22},{"x":0.25,"y":0.065,"v":1.3},{"x":0.3,"y":0.065,"v":1.4},{"x":0.35,"y":0.065,"v":1.6},{"x":0.4,"y":0.065,"v":1.85},{"x":0.43,"y":0.065,"v":1.9},
{"x":0,"y":-0.064,"v":1.03},{"x":0.05,"y":-0.064,"v":1.05},{"x":0.1,"y":-0.064,"v":1.09},{"x":0.15,"y":-0.064,"v":1.14},{"x":0.2,"y":-0.064,"v":1.2},{"x":0.25,"y":-0.064,"v":1.3},{"x":0.3,"y":-0.064,"v":1.4},{"x":0.35,"y":-0.064,"v":1.65},{"x":0.4,"y":-0.064,"v":1.8},{"x":0.43,"y":-0.064,"v":1.75},
{"x":0,"y":-0.193,"v":1.03},{"x":0.05,"y":-0.193,"v":1.05},{"x":0.1,"y":-0.193,"v":1.08},{"x":0.15,"y":-0.193,"v":1.13},{"x":0.2,"y":-0.193,"v":1.2},{"x":0.25,"y":-0.193,"v":1.3},{"x":0.3,"y":-0.193,"v":1.5},{"x":0.35,"y":-0.193,"v":1.75},{"x":0.4,"y":-0.193,"v":1.7},{"x":0.43,"y":-0.193,"v":1.65},
{"x":0,"y":-0.322,"v":1.03},{"x":0.05,"y":-0.322,"v":1.05},{"x":0.1,"y":-0.322,"v":1.08},{"x":0.15,"y":-0.322,"v":1.13},{"x":0.2,"y":-0.322,"v":1.2},{"x":0.25,"y":-0.322,"v":1.38},{"x":0.3,"y":-0.322,"v":1.55},{"x":0.35,"y":-0.322,"v":1.7},{"x":0.4,"y":-0.322,"v":1.6},{"x":0.43,"y":-0.322,"v":1.6},
{"x":0,"y":-0.451,"v":1.03},{"x":0.05,"y":-0.451,"v":1.05},{"x":0.1,"y":-0.451,"v":1.08},{"x":0.15,"y":-0.451,"v":1.13},{"x":0.2,"y":-0.451,"v":1.3},{"x":0.25,"y":-0.451,"v":1.45},{"x":0.3,"y":-0.451,"v":1.6},{"x":0.35,"y":-0.451,"v":1.75},{"x":0.4,"y":-0.451,"v":1.6},{"x":0.43,"y":-0.451,"v":1.55},
{"x":0,"y":-0.58,"v":1.04},{"x":0.05,"y":-0.58,"v":1.06},{"x":0.13,"y":-0.58,"v":1.15},{"x":0.2,"y":-0.58,"v":1.5},{"x":0.25,"y":-0.58,"v":1.55}
],
"f":[
{"x":0,"y":1.375,"v":1.05},{"x":0.05,"y":1.375,"v":1.13},{"x":0.1,"y":1.375,"v":1.22},{"x":0.15,"y":1.375,"v":1.32},{"x":0.2,"y":1.375,"v":1.41},{"x":0.25,"y":1.375,"v":1.51},{"x":0.3,"y":1.375,"v":1.63},{"x":0.35,"y":1.375,"v":1.74},{"x":0.4,"y":1.375,"v":1.87},{"x":0.45,"y":1.375,"v":2},{"x":0.5,"y":1.375,"v":2.1},{"x":0.55,"y":1.375,"v":2.2},{"x":0.6,"y":1.375,"v":2.31},{"x":0.65,"y":1.375,"v":2.41},{"x":0.7,"y":1.375,"v":2.53},{"x":0.75,"y":1.375,"v":2.65},{"x":0.8,"y":1.375,"v":2.77},{"x":0.85,"y":1.375,"v":2.9},{"x":0.9,"y":1.375,"v":3.02},{"x":0.95,"y":1.375,"v":3.14},
{"x":0,"y":1.25,"v":1.05},{"x":0.05,"y":1.25,"v":1.13},{"x":0.1,"y":1.25,"v":1.22},{"x":0.15,"y":1.25,"v":1.31},{"x":0.2,"y":1.25,"v":1.4},{"x":0.25,"y":1.25,"v":1.51},{"x":0.3,"y":1.25,"v":1.63},{"x":0.35,"y":1.25,"v":1.74},{"x":0.4,"y":1.25,"v":1.86},{"x":0.45,"y":1.25,"v":1.99},{"x":0.5,"y":1.25,"v":2.09},{"x":0.55,"y":1.25,"v":2.19},{"x":0.6,"y":1.25,"v":2.29},{"x":0.65,"y":1.25,"v":2.39},{"x":0.7,"y":1.25,"v":2.52},{"x":0.75,"y":1.25,"v":2.64},{"x":0.8,"y":1.25,"v":2.76},{"x":0.85,"y":1.25,"v":2.88},{"x":0.9,"y":1.25,"v":3},
{"x":0,"y":1.125,"v":1.05},{"x":0.05,"y":1.125,"v":1.13},{"x":0.15,"y":1.125,"v":1.31},{"x":0.2,"y":1.125,"v":1.4},{"x":0.25,"y":1.125,"v":1.5},{"x":0.3,"y":1.125,"v":1.62},{"x":0.35,"y":1.125,"v":1.73},{"x":0.4,"y":1.125,"v":1.85},{"x":0.45,"y":1.125,"v":1.98},{"x":0.5,"y":1.125,"v":2.09},{"x":0.55,"y":1.125,"v":2.19},{"x":0.6,"y":1.125,"v":2.29},{"x":0.65,"y":1.125,"v":2.39},{"x":0.7,"y":1.125,"v":2.51},{"x":0.75,"y":1.125,"v":2.63},{"x":0.8,"y":1.125,"v":2.75},{"x":0.85,"y":1.125,"v":2.87},{"x":0.9,"y":1.125,"v":2.99},{"x":0.95,"y":1.125,"v":3.11},
{"x":0,"y":1,"v":1.05},{"x":0.05,"y":1,"v":1.13},{"x":0.1,"y":1,"v":1.22},{"x":0.15,"y":1,"v":1.31},{"x":0.2,"y":1,"v":1.4},{"x":0.25,"y":1,"v":1.5},{"x":0.3,"y":1,"v":1.62},{"x":0.35,"y":1,"v":1.73},{"x":0.4,"y":1,"v":1.85},{"x":0.45,"y":1,"v":1.98},{"x":0.5,"y":1,"v":2.08},{"x":0.55,"y":1,"v":2.18},{"x":0.6,"y":1,"v":2.28},{"x":0.65,"y":1,"v":2.38},{"x":0.7,"y":1,"v":2.5},{"x":0.75,"y":1,"v":2.62},{"x":0.8,"y":1,"v":2.74},{"x":0.85,"y":1,"v":2.86},{"x":0.9,"y":1,"v":2.98},{"x":0.95,"y":1,"v":3.1},
{"x":0,"y":0.875,"v":1.05},{"x":0.05,"y":0.875,"v":1.13},{"x":0.1,"y":0.875,"v":1.22},{"x":0.15,"y":0.875,"v":1.31},{"x":0.2,"y":0.875,"v":1.4},{"x":0.25,"y":0.875,"v":1.5},{"x":0.3,"y":0.875,"v":1.61},{"x":0.35,"y":0.875,"v":1.72},{"x":0.4,"y":0.875,"v":1.84},{"x":0.45,"y":0.875,"v":1.97},{"x":0.5,"y":0.875,"v":2.07},{"x":0.55,"y":0.875,"v":2.17},{"x":0.6,"y":0.875,"v":2.27},{"x":0.65,"y":0.875,"v":2.37},{"x":0.7,"y":0.875,"v":2.49},{"x":0.75,"y":0.875,"v":2.6},{"x":0.8,"y":0.875,"v":2.72},{"x":0.85,"y":0.875,"v":2.84},{"x":0.9,"y":0.875,"v":2.96},{"x":0.95,"y":0.875,"v":3.08},
{"x":0,"y":0.75,"v":1.05},{"x":0.05,"y":0.75,"v":1.13},{"x":0.1,"y":0.75,"v":1.22},{"x":0.15,"y":0.75,"v":1.3},{"x":0.2,"y":0.75,"v":1.39},{"x":0.25,"y":0.75,"v":1.49},{"x":0.3,"y":0.75,"v":1.61},{"x":0.35,"y":0.75,"v":1.72},{"x":0.4,"y":0.75,"v":1.83},{"x":0.45,"y":0.75,"v":1.96},{"x":0.5,"y":0.75,"v":2.06},{"x":0.55,"y":0.75,"v":2.16},{"x":0.6,"y":0.75,"v":2.25},{"x":0.65,"y":0.75,"v":2.35},{"x":0.7,"y":0.75,"v":2.47},{"x":0.75,"y":0.75,"v":2.59},{"x":0.8,"y":0.75,"v":2.7},{"x":0.85,"y":0.75,"v":2.82},
{"x":0,"y":0.625,"v":1.05},{"x":0.05,"y":0.625,"v":1.13},{"x":0.1,"y":0.625,"v":1.21},{"x":0.15,"y":0.625,"v":1.3},{"x":0.2,"y":0.625,"v":1.39},{"x":0.25,"y":0.625,"v":1.49},{"x":0.3,"y":0.625,"v":1.6},{"x":0.35,"y":0.625,"v":1.71},{"x":0.4,"y":0.625,"v":1.82},{"x":0.45,"y":0.625,"v":1.95},{"x":0.5,"y":0.625,"v":2.05},{"x":0.55,"y":0.625,"v":2.14},{"x":0.6,"y":0.625,"v":2.24},{"x":0.65,"y":0.625,"v":2.34},{"x":0.7,"y":0.625,"v":2.46},{"x":0.75,"y":0.625,"v":2.57},{"x":0.8,"y":0.625,"v":2.69},{"x":0.85,"y":0.625,"v":2.8},{"x":0.9,"y":0.625,"v":2.92},{"x":0.95,"y":0.625,"v":3.04},
{"x":0,"y":0.5,"v":1.05},{"x":0.05,"y":0.5,"v":1.12},{"x":0.1,"y":0.5,"v":1.21},{"x":0.15,"y":0.5,"v":1.3},{"x":0.2,"y":0.5,"v":1.38},{"x":0.25,"y":0.5,"v":1.48},{"x":0.3,"y":0.5,"v":1.6},{"x":0.35,"y":0.5,"v":1.7},{"x":0.4,"y":0.5,"v":1.82},{"x":0.45,"y":0.5,"v":1.94},{"x":0.5,"y":0.5,"v":2.04},{"x":0.55,"y":0.5,"v":2.13},{"x":0.6,"y":0.5,"v":2.23},{"x":0.65,"y":0.5,"v":2.32},{"x":0.7,"y":0.5,"v":2.44},{"x":0.75,"y":0.5,"v":2.56},{"x":0.8,"y":0.5,"v":2.67},
{"x":0,"y":0.375,"v":1.05},{"x":0.05,"y":0.375,"v":1.12},{"x":0.1,"y":0.375,"v":1.21},{"x":0.15,"y":0.375,"v":1.29},{"x":0.2,"y":0.375,"v":1.38},{"x":0.25,"y":0.375,"v":1.48},{"x":0.3,"y":0.375,"v":1.59},{"x":0.35,"y":0.375,"v":1.69},{"x":0.4,"y":0.375,"v":1.81},{"x":0.45,"y":0.375,"v":1.93},{"x":0.5,"y":0.375,"v":2.03},{"x":0.55,"y":0.375,"v":2.12},{"x":0.6,"y":0.375,"v":2.22},{"x":0.65,"y":0.375,"v":2.31},{"x":0.7,"y":0.375,"v":2.43},{"x":0.75,"y":0.375,"v":2.54},
{"x":0,"y":0.25,"v":1.05},{"x":0.05,"y":0.25,"v":1.12},{"x":0.1,"y":0.25,"v":1.21},{"x":0.15,"y":0.25,"v":1.29},{"x":0.2,"y":0.25,"v":1.38},{"x":0.25,"y":0.25,"v":1.47},{"x":0.3,"y":0.25,"v":1.58},{"x":0.35,"y":0.25,"v":1.69},{"x":0.4,"y":0.25,"v":1.8},{"x":0.45,"y":0.25,"v":1.92},{"x":0.5,"y":0.25,"v":2.02},{"x":0.55,"y":0.25,"v":2.11},{"x":0.6,"y":0.25,"v":2.2},{"x":0.65,"y":0.25,"v":2.3},
{"x":0,"y":0.125,"v":1.05},{"x":0.05,"y":0.125,"v":1.12},{"x":0.1,"y":0.125,"v":1.2},{"x":0.15,"y":0.125,"v":1.29},{"x":0.2,"y":0.125,"v":1.37},{"x":0.25,"y":0.125,"v":1.47},{"x":0.3,"y":0.125,"v":1.58},{"x":0.35,"y":0.125,"v":1.68},{"x":0.4,"y":0.125,"v":1.79},{"x":0.45,"y":0.125,"v":1.91},{"x":0.5,"y":0.125,"v":2},{"x":0.55,"y":0.125,"v":2.1},{"x":0.6,"y":0.125,"v":2.19},
{"x":0,"y":0,"v":1.05},{"x":0.05,"y":0,"v":1.12},{"x":0.1,"y":0,"v":1.2},{"x":0.15,"y":0,"v":1.29},{"x":0.2,"y":0,"v":1.37},{"x":0.25,"y":0,"v":1.46},{"x":0.3,"y":0,"v":1.57},{"x":0.35,"y":0,"v":1.67},{"x":0.4,"y":0,"v":1.78},{"x":0.45,"y":0,"v":1.9},{"x":0.5,"y":0,"v":1.99},{"x":0.55,"y":0,"v":2.09},{"x":0.6,"y":0,"v":2.18},
{"x":0,"y":-0.125,"v":1.05},{"x":0.05,"y":-0.125,"v":1.12},{"x":0.1,"y":-0.125,"v":1.2},{"x":0.15,"y":-0.125,"v":1.28},{"x":0.2,"y":-0.125,"v":1.36},{"x":0.25,"y":-0.125,"v":1.46},{"x":0.3,"y":-0.125,"v":1.56},{"x":0.35,"y":-0.125,"v":1.66},{"x":0.4,"y":-0.125,"v":1.77},{"x":0.45,"y":-0.125,"v":1.89},{"x":0.5,"y":-0.125,"v":1.98},
{"x":0,"y":-0.25,"v":1.05},{"x":0.05,"y":-0.25,"v":1.12},{"x":0.1,"y":-0.25,"v":1.2},{"x":0.15,"y":-0.25,"v":1.28},{"x":0.2,"y":-0.25,"v":1.36},{"x":0.25,"y":-0.25,"v":1.45},{"x":0.3,"y":-0.25,"v":1.56},{"x":0.35,"y":-0.25,"v":1.66},{"x":0.4,"y":-0.25,"v":1.77},
{"x":0,"y":-0.375,"v":1.04},{"x":0.05,"y":-0.375,"v":1.12},{"x":0.1,"y":-0.375,"v":1.2},{"x":0.15,"y":-0.375,"v":1.28},{"x":0.2,"y":-0.375,"v":1.36},{"x":0.25,"y":-0.375,"v":1.45},{"x":0.3,"y":-0.375,"v":1.55},{"x":0.35,"y":-0.375,"v":1.65},
{"x":0,"y":-0.5,"v":1.04},{"x":0.05,"y":-0.5,"v":1.11},{"x":0.1,"y":-0.5,"v":1.19},{"x":0.15,"y":-0.5,"v":1.27},{"x":0.2,"y":-0.5,"v":1.35},{"x":0.25,"y":-0.5,"v":1.44},{"x":0.3,"y":-0.5,"v":1.55},{"x":0.35,"y":-0.5,"v":1.64},
{"x":0,"y":-0.625,"v":1.04},{"x":0.05,"y":-0.625,"v":1.11},{"x":0.1,"y":-0.625,"v":1.19},{"x":0.15,"y":-0.625,"v":1.27},{"x":0.2,"y":-0.625,"v":1.35},{"x":0.25,"y":-0.625,"v":1.44},{"x":0.3,"y":-0.625,"v":1.54},{"x":0.35,"y":-0.625,"v":1.64},
{"x":0,"y":-0.75,"v":1.04},{"x":0.05,"y":-0.75,"v":1.11},{"x":0.1,"y":-0.75,"v":1.19},{"x":0.15,"y":-0.75,"v":1.27},{"x":0.2,"y":-0.75,"v":1.34},{"x":0.25,"y":-0.75,"v":1.43},{"x":0.3,"y":-0.75,"v":1.53},{"x":0.35,"y":-0.75,"v":1.63},
{"x":0,"y":-0.875,"v":1.04},{"x":0.05,"y":-0.875,"v":1.11},{"x":0.1,"y":-0.875,"v":1.19},{"x":0.15,"y":-0.875,"v":1.26},{"x":0.2,"y":-0.875,"v":1.34},
{"x":0,"y":-1,"v":1.04},{"x":0.05,"y":-1,"v":1.11},{"x":0.1,"y":-1,"v":1.18},{"x":0.15,"y":-1,"v":1.26},{"x":0.2,"y":-1,"v":1.34}
],
"g":[
{"x":0.05,"y":1.375,"v":2.5},{"x":0.1,"y":1.375,"v":3.3},{"x":0.15,"y":1.375,"v":4.3},{"x":0.2,"y":1.375,"v":5.25},{"x":0.25,"y":1.375,"v":6.6},{"x":0.3,"y":1.375,"v":8.3},{"x":0.35,"y":1.375,"v":9.8},{"x":0.4,"y":1.375,"v":11.3},{"x":0.45,"y":1.375,"v":13.1},{"x":0.5,"y":1.375,"v":15.5},{"x":0.55,"y":1.375,"v":17.1},{"x":0.6,"y":1.375,"v":19.3},{"x":0.65,"y":1.375,"v":20},{"x":0.7,"y":1.375,"v":20},{"x":0.75,"y":1.375,"v":20},{"x":0.8,"y":1.375,"v":20},{"x":0.85,"y":1.375,"v":20},{"x":0.9,"y":1.375,"v":20},{"x":0.95,"y":1.375,"v":20},
{"x":0,"y":1.25,"v":1.6},{"x":0.05,"y":1.25,"v":2.4},{"x":0.1,"y":1.25,"v":3.1},{"x":0.15,"y":1.25,"v":4.1},{"x":0.2,"y":1.25,"v":5.1},{"x":0.25,"y":1.25,"v":6.2},{"x":0.3,"y":1.25,"v":7.6},{"x":0.35,"y":1.25,"v":9.1},{"x":0.4,"y":1.25,"v":10.7},{"x":0.45,"y":1.25,"v":12.4},{"x":0.5,"y":1.25,"v":14.5},{"x":0.55,"y":1.25,"v":16.3},{"x":0.6,"y":1.25,"v":18.3},{"x":0.65,"y":1.25,"v":20},{"x":0.7,"y":1.25,"v":20},{"x":0.75,"y":1.25,"v":20},{"x":0.8,"y":1.25,"v":20},{"x":0.85,"y":1.25,"v":20},{"x":0.9,"y":1.25,"v":20},{"x":0.95,"y":1.25,"v":20},
{"x":0,"y":1.125,"v":1.6},{"x":0.05,"y":1.125,"v":2.3},{"x":0.1,"y":1.125,"v":3},{"x":0.15,"y":1.125,"v":3.8},{"x":0.2,"y":1.125,"v":4.7},{"x":0.25,"y":1.125,"v":5.6},{"x":0.3,"y":1.125,"v":7.1},{"x":0.35,"y":1.125,"v":8.5},{"x":0.4,"y":1.125,"v":9.9},{"x":0.45,"y":1.125,"v":11.6},{"x":0.5,"y":1.125,"v":13.4},{"x":0.55,"y":1.125,"v":15.5},{"x":0.6,"y":1.125,"v":16.9},{"x":0.65,"y":1.125,"v":18.6},{"x":0.7,"y":1.125,"v":20},{"x":0.75,"y":1.125,"v":20},{"x":0.8,"y":1.125,"v":20},{"x":0.85,"y":1.125,"v":20},{"x":0.9,"y":1.125,"v":20},{"x":0.95,"y":1.125,"v":20},
{"x":0,"y":1,"v":1.6},{"x":0.05,"y":1,"v":2.2},{"x":0.1,"y":1,"v":2.9},{"x":0.15,"y":1,"v":3.6},{"x":0.2,"y":1,"v":4.5},{"x":0.25,"y":1,"v":5.5},{"x":0.3,"y":1,"v":6.8},{"x":0.35,"y":1,"v":8},{"x":0.4,"y":1,"v":9.5},{"x":0.45,"y":1,"v":11},{"x":0.5,"y":1,"v":12.7},{"x":0.55,"y":1,"v":14.7},{"x":0.6,"y":1,"v":16.3},{"x":0.65,"y":1,"v":17.8},{"x":0.7,"y":1,"v":19.5},{"x":0.75,"y":1,"v":20},{"x":0.8,"y":1,"v":20},{"x":0.85,"y":1,"v":20},{"x":0.9,"y":1,"v":20},{"x":0.95,"y":1,"v":20},
{"x":0,"y":0.875,"v":1.6},{"x":0.05,"y":0.875,"v":2.2},{"x":0.1,"y":0.875,"v":2.8},{"x":0.15,"y":0.875,"v":3.5},{"x":0.2,"y":0.875,"v":4.3},{"x":0.25,"y":0.875,"v":5.2},{"x":0.3,"y":0.875,"v":6.2},{"x":0.35,"y":0.875,"v":7.4},{"x":0.4,"y":0.875,"v":8.8},{"x":0.45,"y":0.875,"v":10.1},{"x":0.5,"y":0.875,"v":11.7},{"x":0.55,"y":0.875,"v":13.5},{"x":0.6,"y":0.875,"v":15.4},{"x":0.65,"y":0.875,"v":16.9},{"x":0.7,"y":0.875,"v":18.4},{"x":0.75,"y":0.875,"v":19.9},{"x":0.8,"y":0.875,"v":20},{"x":0.85,"y":0.875,"v":20},{"x":0.9,"y":0.875,"v":20},{"x":0.95,"y":0.875,"v":20},
{"x":0,"y":0.75,"v":1.6},{"x":0.05,"y":0.75,"v":2.2},{"x":0.1,"y":0.75,"v":2.8},{"x":0.15,"y":0.75,"v":3.3},{"x":0.2,"y":0.75,"v":4.1},{"x":0.25,"y":0.75,"v":4.9},{"x":0.3,"y":0.75,"v":5.9},{"x":0.35,"y":0.75,"v":7},{"x":0.4,"y":0.75,"v":8.4},{"x":0.45,"y":0.75,"v":9.5},{"x":0.5,"y":0.75,"v":10.9},{"x":0.55,"y":0.75,"v":12.4},{"x":0.6,"y":0.75,"v":14.2},{"x":0.65,"y":0.75,"v":16},{"x":0.7,"y":0.75,"v":17.4},{"x":0.75,"y":0.75,"v":18.8},{"x":0.8,"y":0.75,"v":19.9},{"x":0.85,"y":0.75,"v":20},{"x":0.9,"y":0.75,"v":20},{"x":0.95,"y":0.75,"v":20},
{"x":0,"y":0.625,"v":1.6},{"x":0.05,"y":0.625,"v":2.1},{"x":0.1,"y":0.625,"v":2.6},{"x":0.15,"y":0.625,"v":3.2},{"x":0.2,"y":0.625,"v":4},{"x":0.25,"y":0.625,"v":4.8},{"x":0.3,"y":0.625,"v":5.6},{"x":0.35,"y":0.625,"v":6.6},{"x":0.4,"y":0.625,"v":7.8},{"x":0.45,"y":0.625,"v":8.7},{"x":0.5,"y":0.625,"v":9.8},{"x":0.55,"y":0.625,"v":11},{"x":0.6,"y":0.625,"v":13},{"x":0.65,"y":0.625,"v":15},{"x":0.7,"y":0.625,"v":16.4},{"x":0.75,"y":0.625,"v":18},{"x":0.8,"y":0.625,"v":19},{"x":0.85,"y":0.625,"v":19.9},{"x":0.9,"y":0.625,"v":20},{"x":0.95,"y":0.625,"v":20},
{"x":0,"y":0.5,"v":1.5},{"x":0.05,"y":0.5,"v":2.1},{"x":0.1,"y":0.5,"v":2.6},{"x":0.15,"y":0.5,"v":3.1},{"x":0.2,"y":0.5,"v":3.8},{"x":0.25,"y":0.5,"v":4.6},{"x":0.3,"y":0.5,"v":5.3},{"x":0.35,"y":0.5,"v":6.2},{"x":0.4,"y":0.5,"v":7.4},{"x":0.45,"y":0.5,"v":8.4},{"x":0.5,"y":0.5,"v":9.3},{"x":0.55,"y":0.5,"v":10.2},{"x":0.6,"y":0.5,"v":11.9},{"x":0.65,"y":0.5,"v":13.9},{"x":0.7,"y":0.5,"v":15.7},{"x":0.75,"y":0.5,"v":17.4},{"x":0.8,"y":0.5,"v":18.4},{"x":0.85,"y":0.5,"v":19.1},{"x":0.9,"y":0.5,"v":19.9},{"x":0.95,"y":0.5,"v":20},
{"x":0,"y":0.375,"v":1.5},{"x":0.05,"y":0.375,"v":2.1},{"x":0.1,"y":0.375,"v":2.5},{"x":0.15,"y":0.375,"v":3},{"x":0.2,"y":0.375,"v":3.7},{"x":0.25,"y":0.375,"v":4.5},{"x":0.3,"y":0.375,"v":5.2},{"x":0.35,"y":0.375,"v":6},{"x":0.4,"y":0.375,"v":7},{"x":0.45,"y":0.375,"v":8},{"x":0.5,"y":0.375,"v":8.9},{"x":0.55,"y":0.375,"v":9.8},{"x":0.6,"y":0.375,"v":10.9},{"x":0.65,"y":0.375,"v":12.7},{"x":0.7,"y":0.375,"v":14.6},{"x":0.75,"y":0.375,"v":16.6},{"x":0.8,"y":0.375,"v":18.3},{"x":0.85,"y":0.375,"v":19},{"x":0.9,"y":0.375,"v":18.5},
{"x":0,"y":0.25,"v":1.5},{"x":0.05,"y":0.25,"v":2},{"x":0.1,"y":0.25,"v":2.5},{"x":0.15,"y":0.25,"v":3},{"x":0.2,"y":0.25,"v":3.6},{"x":0.25,"y":0.25,"v":4.3},{"x":0.3,"y":0.25,"v":5},{"x":0.35,"y":0.25,"v":5.7},{"x":0.4,"y":0.25,"v":6.7},{"x":0.45,"y":0.25,"v":7.7},{"x":0.5,"y":0.25,"v":8.6},{"x":0.55,"y":0.25,"v":9.4},{"x":0.6,"y":0.25,"v":10.2},{"x":0.65,"y":0.25,"v":11.9},{"x":0.7,"y":0.25,"v":13.7},{"x":0.75,"y":0.25,"v":15.4},{"x":0.8,"y":0.25,"v":16.5},
{"x":0,"y":0.125,"v":1.5},{"x":0.05,"y":0.125,"v":2},{"x":0.1,"y":0.125,"v":2.5},{"x":0.15,"y":0.125,"v":3},{"x":0.2,"y":0.125,"v":3.5},{"x":0.25,"y":0.125,"v":4.2},{"x":0.3,"y":0.125,"v":4.8},{"x":0.35,"y":0.125,"v":5.5},{"x":0.4,"y":0.125,"v":6.5},{"x":0.45,"y":0.125,"v":7.4},{"x":0.5,"y":0.125,"v":8.3},{"x":0.55,"y":0.125,"v":9.1},{"x":0.6,"y":0.125,"v":9.8},{"x":0.65,"y":0.125,"v":11},{"x":0.7,"y":0.125,"v":12.6},
{"x":0,"y":0,"v":1.4},{"x":0.05,"y":0,"v":2},{"x":0.1,"y":0,"v":2.4},{"x":0.15,"y":0,"v":2.9},{"x":0.2,"y":0,"v":3.4},{"x":0.25,"y":0,"v":4.1},{"x":0.3,"y":0,"v":4.7},{"x":0.35,"y":0,"v":5.3},{"x":0.4,"y":0,"v":6.2},{"x":0.45,"y":0,"v":7},{"x":0.5,"y":0,"v":7.9},{"x":0.55,"y":0,"v":8.7},{"x":0.6,"y":0,"v":9.4},{"x":0.65,"y":0,"v":10.2},{"x":0.85,"y":0,"v":12},
{"x":0,"y":-0.125,"v":1.4},{"x":0.05,"y":-0.125,"v":1.9},{"x":0.1,"y":-0.125,"v":2.4},{"x":0.15,"y":-0.125,"v":2.9},{"x":0.2,"y":-0.125,"v":3.4},{"x":0.25,"y":-0.125,"v":4},{"x":0.3,"y":-0.125,"v":4.6},{"x":0.35,"y":-0.125,"v":5.2},{"x":0.4,"y":-0.125,"v":5.9},{"x":0.45,"y":-0.125,"v":6.7},{"x":0.5,"y":-0.125,"v":7.5},{"x":0.55,"y":-0.125,"v":8.2},
{"x":0,"y":-0.25,"v":1.4},{"x":0.05,"y":-0.25,"v":1.9},{"x":0.1,"y":-0.25,"v":2.4},{"x":0.15,"y":-0.25,"v":2.8},{"x":0.2,"y":-0.25,"v":3.3},{"x":0.25,"y":-0.25,"v":3.9},{"x":0.3,"y":-0.25,"v":4.5},{"x":0.35,"y":-0.25,"v":5},{"x":0.4,"y":-0.25,"v":5.7},{"x":0.45,"y":-0.25,"v":6.4},
{"x":0,"y":-0.375,"v":1.4},{"x":0.05,"y":-0.375,"v":1.9},{"x":0.1,"y":-0.375,"v":2.3},{"x":0.15,"y":-0.375,"v":2.8},{"x":0.2,"y":-0.375,"v":3.3},{"x":0.25,"y":-0.375,"v":3.8},{"x":0.3,"y":-0.375,"v":4.3},{"x":0.35,"y":-0.375,"v":4.9},{"x":0.4,"y":-0.375,"v":5.5},{"x":0.45,"y":-0.375,"v":6.1},
{"x":0,"y":-0.5,"v":1.4},{"x":0.05,"y":-0.5,"v":1.8},{"x":0.1,"y":-0.5,"v":2.3},{"x":0.15,"y":-0.5,"v":2.7},{"x":0.2,"y":-0.5,"v":3.2},{"x":0.25,"y":-0.5,"v":3.7},{"x":0.3,"y":-0.5,"v":4.2},{"x":0.35,"y":-0.5,"v":4.7},{"x":0.4,"y":-0.5,"v":5.3},{"x":0.45,"y":-0.5,"v":5.8},
{"x":0,"y":-0.625,"v":1.3},{"x":0.05,"y":-0.625,"v":1.8},{"x":0.1,"y":-0.625,"v":2.2},{"x":0.15,"y":-0.625,"v":2.7},{"x":0.2,"y":-0.625,"v":3.1},{"x":0.25,"y":-0.625,"v":3.6},{"x":0.3,"y":-0.625,"v":4},{"x":0.35,"y":-0.625,"v":4.5},{"x":0.4,"y":-0.625,"v":5},{"x":0.45,"y":-0.625,"v":5.5},
{"x":0,"y":-0.75,"v":1.3},{"x":0.05,"y":-0.75,"v":1.8},{"x":0.1,"y":-0.75,"v":2.2},{"x":0.15,"y":-0.75,"v":2.6},{"x":0.2,"y":-0.75,"v":3},{"x":0.25,"y":-0.75,"v":3.4},{"x":0.3,"y":-0.75,"v":3.9},{"x":0.35,"y":-0.75,"v":4.3},{"x":0.4,"y":-0.75,"v":4.8},{"x":0.45,"y":-0.75,"v":5.2},
{"x":0,"y":-0.875,"v":1.3},{"x":0.05,"y":-0.875,"v":1.7},{"x":0.1,"y":-0.875,"v":2.1},{"x":0.15,"y":-0.875,"v":2.5},{"x":0.2,"y":-0.875,"v":2.9},{"x":0.25,"y":-0.875,"v":3.3},{"x":0.3,"y":-0.875,"v":3.7},
{"x":0,"y":-1,"v":1.3},{"x":0.05,"y":-1,"v":1.7},{"x":0.1,"y":-1,"v":2.1},{"x":0.15,"y":-1,"v":2.4},{"x":0.2,"y":-1,"v":2.8},{"x":0.25,"y":-1,"v":3.2}
],
"h":[
{"x":0.05,"y":0.452,"v":2},{"x":0.1,"y":0.452,"v":2.2},{"x":0.15,"y":0.452,"v":2.5},{"x":0.2,"y":0.452,"v":3},{"x":0.25,"y":0.452,"v":3.8},{"x":0.3,"y":0.452,"v":4.8},{"x":0.35,"y":0.452,"v":6},{"x":0.4,"y":0.452,"v":8},{"x":0.43,"y":0.452,"v":9.5},
{"x":0.05,"y":0.323,"v":2},{"x":0.1,"y":0.323,"v":2.2},{"x":0.15,"y":0.323,"v":2.5},{"x":0.2,"y":0.323,"v":3.2},{"x":0.25,"y":0.323,"v":4.6},{"x":0.3,"y":0.323,"v":5},{"x":0.35,"y":0.323,"v":5.6},{"x":0.4,"y":0.323,"v":7},{"x":0.43,"y":0.323,"v":9.5},
{"x":0.05,"y":0.194,"v":1.9},{"x":0.1,"y":0.194,"v":2.1},{"x":0.15,"y":0.194,"v":2.4},{"x":0.2,"y":0.194,"v":3},{"x":0.25,"y":0.194,"v":4.3},{"x":0.3,"y":0.194,"v":4.6},{"x":0.35,"y":0.194,"v":5.2},{"x":0.4,"y":0.194,"v":7},{"x":0.43,"y":0.194,"v":9.3},
{"x":0.05,"y":0.065,"v":1.7},{"x":0.1,"y":0.065,"v":2},{"x":0.15,"y":0.065,"v":2.3},{"x":0.2,"y":0.065,"v":2.9},{"x":0.25,"y":0.065,"v":3.8},{"x":0.3,"y":0.065,"v":4.2},{"x":0.35,"y":0.065,"v":5},{"x":0.4,"y":0.065,"v":7.5},{"x":0.43,"y":0.065,"v":8.5},
{"x":0,"y":-0.064,"v":1.2},{"x":0.05,"y":-0.064,"v":1.5},{"x":0.1,"y":-0.064,"v":1.9},{"x":0.15,"y":-0.064,"v":2.2},{"x":0.2,"y":-0.064,"v":2.7},{"x":0.25,"y":-0.064,"v":3.4},{"x":0.3,"y":-0.064,"v":4},{"x":0.35,"y":-0.064,"v":5.2},{"x":0.4,"y":-0.064,"v":7.5},{"x":0.43,"y":-0.064,"v":7.5},
{"x":0,"y":-0.193,"v":1.2},{"x":0.05,"y":-0.193,"v":1.5},{"x":0.1,"y":-0.193,"v":1.8},{"x":0.15,"y":-0.193,"v":2.1},{"x":0.2,"y":-0.193,"v":2.6},{"x":0.25,"y":-0.193,"v":3.2},{"x":0.3,"y":-0.193,"v":4.2},{"x":0.35,"y":-0.193,"v":6},{"x":0.4,"y":-0.193,"v":6.5},{"x":0.43,"y":-0.193,"v":5.8},
{"x":0,"y":-0.322,"v":1.2},{"x":0.05,"y":-0.322,"v":1.4},{"x":0.1,"y":-0.322,"v":1.7},{"x":0.15,"y":-0.322,"v":2},{"x":0.2,"y":-0.322,"v":2.5},{"x":0.25,"y":-0.322,"v":3.4},{"x":0.3,"y":-0.322,"v":5.5},{"x":0.35,"y":-0.322,"v":6.5},{"x":0.4,"y":-0.322,"v":4.5},{"x":0.43,"y":-0.322,"v":4.8},
{"x":0,"y":-0.451,"v":1.2},{"x":0.05,"y":-0.451,"v":1.4},{"x":0.1,"y":-0.451,"v":1.6},{"x":0.15,"y":-0.451,"v":2},{"x":0.2,"y":-0.451,"v":2.8},{"x":0.25,"y":-0.451,"v":4.5},{"x":0.3,"y":-0.451,"v":5.5},{"x":0.35,"y":-0.451,"v":7.5},{"x":0.4,"y":-0.451,"v":3.5},{"x":0.43,"y":-0.451,"v":3.5},
{"x":0,"y":-0.58,"v":1.2},{"x":0.05,"y":-0.58,"v":1.4},{"x":0.1,"y":-0.58,"v":1.6},{"x":0.15,"y":-0.58,"v":1.8},{"x":0.25,"y":-0.58,"v":4.5},{"x":0.33,"y":-0.58,"v":6.5}
]},
"config":{"font":"Liberation Sans","view":{"stroke":"black","strokeWidth":1},"axis":{"grid":false,"domain":false,"ticks":true,"tickColor":"black","labelColor":"black","labelFontSize":24,"titleFontSize":36,"titleFontWeight":"normal","titleColor":"black","zindex":1,"labelOverlap":false,"labelFlush":false,"labelBound":false,"labelExpr":"''+datum.value"},"axisX":{"tickSize":-14,"labelPadding":32,"labelOffset":3.5,"values":[0,0.2,0.4,0.6,0.8,1],"titlePadding":2},"axisY":{"tickSize":-20,"labelPadding":47,"values":[-1,-0.5,0,0.5,1,1.5],"titlePadding":5},"legend":{"gradientLength":184,"gradientThickness":14,"gradientStrokeColor":"black","gradientStrokeWidth":1,"labelFontSize":24,"labelColor":"black","title":null,"offset":6,"padding":0,"labelOverlap":false},"text":{"fontSize":36,"baseline":"middle","align":"center","color":"black"}},
"concat":[
{"width":264,"height":184,"layer":[{"data":{"name":"a"},"mark":{"type":"rect","width":13.6,"height":9.6,"xOffset":6.6,"yOffset":-4.6},"encoding":{"x":{"field":"x","type":"quantitative","scale":{"domain":[0,1],"nice":false},"title":"Variance"},"y":{"field":"y","type":"quantitative","scale":{"domain":[-1,1.5],"nice":false},"title":"Skewness"},"color":{"field":"v","type":"quantitative","scale":{"domain":[1,4],"clamp":true,"range":["#000090","#000fff","#0090ff","#0fffee","#90ff70","#ffee00","#ff7000","#ee0000","#7f0000"]},"legend":{"labelExpr":"''","values":[1.01,3.99]}}}},{"data":{"values":[{"label":"(a)","x":-0.1,"y":1.88},{"label":"OBS BR","x":0.5,"y":1.88}]},"mark":"text","encoding":{"x":{"field":"x","type":"quantitative"},"y":{"field":"y","type":"quantitative"},"text":{"field":"label"}}}]},
{"width":264,"height":184,"layer":[{"data":{"name":"b"},"mark":{"type":"rect","width":13.6,"height":9.6,"xOffset":6.6,"yOffset":-4.6},"encoding":{"x":{"field":"x","type":"quantitative","scale":{"domain":[0,1],"nice":false},"title":null},"y":{"field":"y","type":"quantitative","scale":{"domain":[-1,1.5],"nice":false},"title":null},"color":{"field":"v","type":"quantitative","scale":{"domain":[1,4],"clamp":true,"range":["#000090","#000fff","#0090ff","#0fffee","#90ff70","#ffee00","#ff7000","#ee0000","#7f0000"]},"legend":{"labelExpr":"''","values":[1.01,3.99]}}}},{"data":{"values":[{"label":"(b)","x":-0.1,"y":1.88},{"label":"MIROC BR","x":0.5,"y":1.88}]},"mark":"text","encoding":{"x":{"field":"x","type":"quantitative"},"y":{"field":"y","type":"quantitative"},"text":{"field":"label"}}}]},
{"width":264,"height":184,"layer":[{"data":{"name":"c"},"mark":{"type":"rect","width":13.6,"height":9.6,"xOffset":6.6,"yOffset":-4.6},"encoding":{"x":{"field":"x","type":"quantitative","scale":{"domain":[0,1],"nice":false},"title":null},"y":{"field":"y","type":"quantitative","scale":{"domain":[-1,1.5],"nice":false},"title":null},"color":{"field":"v","type":"quantitative","scale":{"domain":[1,4],"clamp":true,"range":["#000090","#000fff","#0090ff","#0fffee","#90ff70","#ffee00","#ff7000","#ee0000","#7f0000"]},"legend":{"labelExpr":"''+round(datum.value*2)/2","values":[1.01,1.5,2,2.5,3,3.5,3.99],"labelOffset":22}}}},{"data":{"values":[{"label":"(c)","x":-0.1,"y":1.88},{"label":"NICAM BR","x":0.5,"y":1.88}]},"mark":"text","encoding":{"x":{"field":"x","type":"quantitative"},"y":{"field":"y","type":"quantitative"},"text":{"field":"label"}}}]},
{"width":264,"height":184,"layer":[{"data":{"name":"d"},"mark":{"type":"rect","width":13.6,"height":9.6,"xOffset":6.6,"yOffset":-4.6},"encoding":{"x":{"field":"x","type":"quantitative","scale":{"domain":[0,1],"nice":false},"title":null},"y":{"field":"y","type":"quantitative","scale":{"domain":[-1,1.5],"nice":false},"title":null},"color":{"field":"v","type":"quantitative","scale":{"domain":[1,3.5],"clamp":true,"range":["#000090","#000fff","#0090ff","#0fffee","#90ff70","#ffee00","#ff7000","#ee0000","#7f0000"]},"legend":{"labelExpr":"''","values":[1.01,3.49]}}}},{"data":{"values":[{"label":"(d)","x":-0.1,"y":1.88},{"label":"OBS KK","x":0.5,"y":1.88}]},"mark":"text","encoding":{"x":{"field":"x","type":"quantitative"},"y":{"field":"y","type":"quantitative"},"text":{"field":"label"}}}]},
{"width":264,"height":184,"layer":[{"data":{"name":"e"},"mark":{"type":"rect","width":13.6,"height":9.6,"xOffset":6.6,"yOffset":-4.6},"encoding":{"x":{"field":"x","type":"quantitative","scale":{"domain":[0,1],"nice":false},"title":null},"y":{"field":"y","type":"quantitative","scale":{"domain":[-1,1.5],"nice":false},"title":null},"color":{"field":"v","type":"quantitative","scale":{"domain":[1,3.5],"clamp":true,"range":["#000090","#000fff","#0090ff","#0fffee","#90ff70","#ffee00","#ff7000","#ee0000","#7f0000"]},"legend":{"labelExpr":"''","values":[1.01,3.49]}}}},{"data":{"values":[{"label":"(e)","x":-0.1,"y":1.88},{"label":"MIROC KK","x":0.5,"y":1.88}]},"mark":"text","encoding":{"x":{"field":"x","type":"quantitative"},"y":{"field":"y","type":"quantitative"},"text":{"field":"label"}}}]},
{"width":264,"height":184,"layer":[{"data":{"name":"f"},"mark":{"type":"rect","width":13.6,"height":9.6,"xOffset":6.6,"yOffset":-4.6},"encoding":{"x":{"field":"x","type":"quantitative","scale":{"domain":[0,1],"nice":false},"title":null},"y":{"field":"y","type":"quantitative","scale":{"domain":[-1,1.5],"nice":false},"title":null},"color":{"field":"v","type":"quantitative","scale":{"domain":[1,3.5],"clamp":true,"range":["#000090","#000fff","#0090ff","#0fffee","#90ff70","#ffee00","#ff7000","#ee0000","#7f0000"]},"legend":{"labelExpr":"''+round(datum.value*2)/2","values":[1.01,1.5,2,2.5,3,3.49],"labelOffset":22}}}},{"data":{"values":[{"label":"(f)","x":-0.1,"y":1.88},{"label":"NICAM KK","x":0.5,"y":1.88}]},"mark":"text","encoding":{"x":{"field":"x","type":"quantitative"},"y":{"field":"y","type":"quantitative"},"text":{"field":"label"}}}]},
{"width":264,"height":184,"layer":[{"data":{"name":"g"},"mark":{"type":"rect","width":13.6,"height":9.6,"xOffset":6.6,"yOffset":-4.6},"encoding":{"x":{"field":"x","type":"quantitative","scale":{"domain":[0,1],"nice":false},"title":null},"y":{"field":"y","type":"quantitative","scale":{"domain":[-1,1.5],"nice":false},"title":null},"color":{"field":"v","type":"quantitative","scale":{"domain":[1,20],"clamp":true,"range":["#000090","#000fff","#0090ff","#0fffee","#90ff70","#ffee00","#ff7000","#ee0000","#7f0000"]},"legend":{"labelExpr":"''","values":[1.05,19.95]}}}},{"data":{"values":[{"label":"(g)","x":-0.1,"y":1.88},{"label":"OBS BH","x":0.5,"y":1.88}]},"mark":"text","encoding":{"x":{"field":"x","type":"quantitative"},"y":{"field":"y","type":"quantitative"},"text":{"field":"label"}}}]},
{"width":264,"height":184,"layer":[{"data":{"name":"h"},"mark":{"type":"rect","width":13.6,"height":9.6,"xOffset":6.6,"yOffset":-4.6},"encoding":{"x":{"field":"x","type":"quantitative","scale":{"domain":[0,1],"nice":false},"title":null},"y":{"field":"y","type":"quantitative","scale":{"domain":[-1,1.5],"nice":false},"title":null},"color":{"field":"v","type":"quantitative","scale":{"domain":[1,20],"clamp":true,"range":["#000090","#000fff","#0090ff","#0fffee","#90ff70","#ffee00","#ff7000","#ee0000","#7f0000"]},"legend":{"labelExpr":"''+round(datum.value/5)*5","values":[5,10,15,19.95],"labelOffset":22}}}},{"data":{"values":[{"label":"(h)","x":-0.1,"y":1.88},{"label":"MIROC BH","x":0.5,"y":1.88}]},"mark":"text","encoding":{"x":{"field":"x","type":"quantitative"},"y":{"field":"y","type":"quantitative"},"text":{"field":"label"}}}]}
],"columns":3,"spacing":{"column":132,"row":139},"bounds":"flush","resolve":{"scale":{"color":"independent","x":"independent","y":"independent"}}}
